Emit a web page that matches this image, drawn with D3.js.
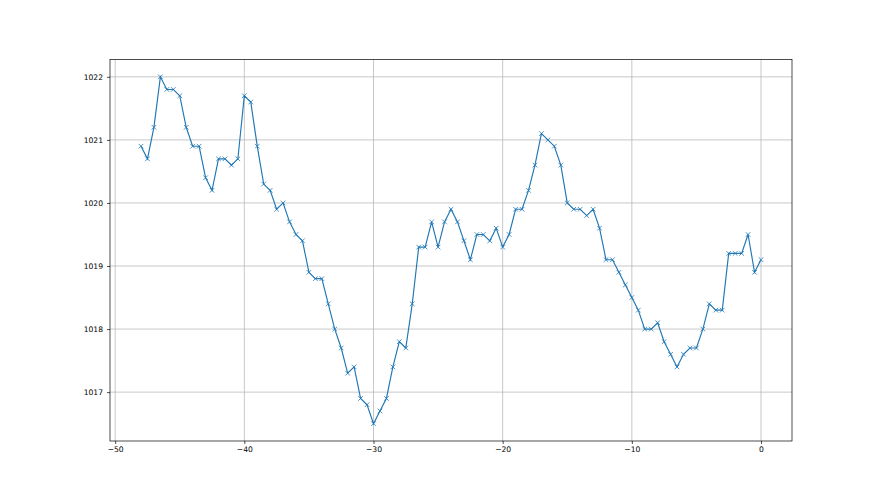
<!DOCTYPE html>
<html>
<head>
<meta charset="utf-8">
<script src="https://cdn.jsdelivr.net/npm/d3@7"></script>
<style>
  body { margin: 0; background: #fff; }
  svg { display: block; }
</style>
</head>
<body>
<div id="vis"></div>
<script>
// time offsets (-48 .. 0, step 0.5) and pressure readings
const hours = d3.range(-48, 0.001, 0.5);
const pressure = [
  1020.9, 1020.7, 1021.2, 1022.0, 1021.8, 1021.8, 1021.7, 1021.2, 1020.9, 1020.9,
  1020.4, 1020.2, 1020.7, 1020.7, 1020.6, 1020.7, 1021.7, 1021.6, 1020.9, 1020.3,
  1020.2, 1019.9, 1020.0, 1019.7, 1019.5, 1019.4, 1018.9, 1018.8, 1018.8, 1018.4,
  1018.0, 1017.7, 1017.3, 1017.4, 1016.9, 1016.8, 1016.5, 1016.7, 1016.9, 1017.4,
  1017.8, 1017.7, 1018.4, 1019.3, 1019.3, 1019.7, 1019.3, 1019.7, 1019.9, 1019.7,
  1019.4, 1019.1, 1019.5, 1019.5, 1019.4, 1019.6, 1019.3, 1019.5, 1019.9, 1019.9,
  1020.2, 1020.6, 1021.1, 1021.0, 1020.9, 1020.6, 1020.0, 1019.9, 1019.9, 1019.8,
  1019.9, 1019.6, 1019.1, 1019.1, 1018.9, 1018.7, 1018.5, 1018.3, 1018.0, 1018.0,
  1018.1, 1017.8, 1017.6, 1017.4, 1017.6, 1017.7, 1017.7, 1018.0, 1018.4, 1018.3,
  1018.3, 1019.2, 1019.2, 1019.2, 1019.5, 1018.9, 1019.1
];
const xTicks = [-50, -40, -30, -20, -10, 0];
const yTicks = [1017, 1018, 1019, 1020, 1021, 1022];

const data = hours.map((h, i) => ({x: h, y: pressure[i]}));

const W = 880, H = 495;
const pLeft = 110, pRight = 792, pTop = 59.5, pBottom = 441;
const font = '"DejaVu Sans", sans-serif';
const blue = '#1f77b4';

const svg = d3.select('#vis').append('svg').attr('width', W).attr('height', H);

// matplotlib style 5% margins
const xExt = d3.extent(hours), yExt = d3.extent(pressure);
const xPad = (xExt[1] - xExt[0]) * 0.05, yPad = (yExt[1] - yExt[0]) * 0.05;
const x = d3.scaleLinear().domain([xExt[0] - xPad, xExt[1] + xPad]).range([pLeft, pRight]);
const y = d3.scaleLinear().domain([yExt[0] - yPad, yExt[1] + yPad]).range([pBottom, pTop]);

// grid
svg.append('g').selectAll('line').data(xTicks).join('line')
  .attr('x1', d => x(d)).attr('x2', d => x(d))
  .attr('y1', pTop).attr('y2', pBottom)
  .attr('stroke', '#b0b0b0').attr('stroke-width', 0.7);
svg.append('g').selectAll('line').data(yTicks).join('line')
  .attr('x1', pLeft).attr('x2', pRight)
  .attr('y1', d => y(d)).attr('y2', d => y(d))
  .attr('stroke', '#b0b0b0').attr('stroke-width', 0.7);

// axes
const xAxis = svg.append('g').attr('transform', `translate(0,${pBottom})`)
  .call(d3.axisBottom(x).tickValues(xTicks).tickSize(3).tickPadding(3).tickFormat(d => d < 0 ? '\u2212' + Math.abs(d) : d));
const yAxis = svg.append('g').attr('transform', `translate(${pLeft},0)`)
  .call(d3.axisLeft(y).tickValues(yTicks).tickSize(3).tickPadding(4).tickFormat(d3.format('d')));
[xAxis, yAxis].forEach(g => {
  g.select('.domain').remove();
  g.selectAll('line').attr('stroke', '#000').attr('stroke-width', 0.7);
  g.selectAll('text').attr('fill', '#000').style('font-family', font).style('font-size', '7.6px');
});

// frame
svg.append('rect').attr('x', pLeft).attr('y', pTop)
  .attr('width', pRight - pLeft).attr('height', pBottom - pTop)
  .attr('fill', 'none').attr('stroke', '#000').attr('stroke-width', 0.7);

// series line
svg.append('path').datum(data)
  .attr('d', d3.line().x(d => x(d.x)).y(d => y(d.y)))
  .attr('fill', 'none').attr('stroke', blue).attr('stroke-width', 1.15);

// x markers
const m = 2.3;
svg.append('g').selectAll('path').data(data).join('path')
  .attr('d', d => {
    const cx = x(d.x), cy = y(d.y);
    return `M${cx - m},${cy - m}L${cx + m},${cy + m}M${cx - m},${cy + m}L${cx + m},${cy - m}`;
  })
  .attr('stroke', blue).attr('stroke-width', 0.8).attr('fill', 'none');
</script>
</body>
</html>
